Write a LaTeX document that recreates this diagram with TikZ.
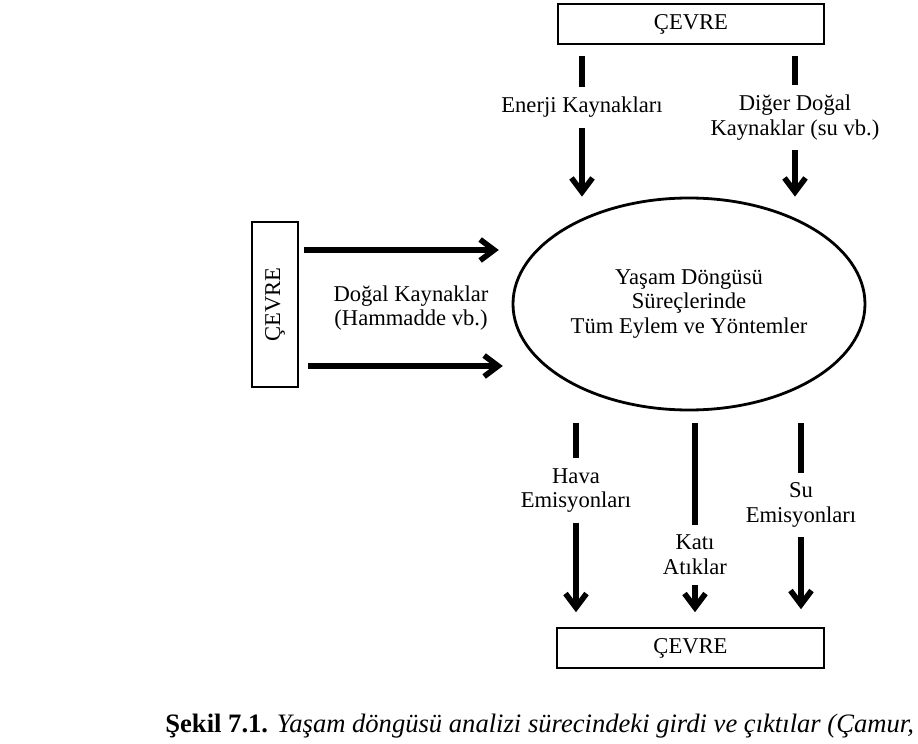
\documentclass[tikz,border=0pt]{standalone}
\usepackage{fontspec}
\setmainfont{Liberation Serif}
\usepackage{tikz}
\usetikzlibrary{positioning,calc,arrows.meta,shapes.geometric}
\tikzset{
  kutu/.style={draw=black,line width=0.8pt,fill=white,inner sep=0pt,
    minimum width=133pt,minimum height=20pt},
  ok/.style={-{Straight Barb[length=7pt,width=10.5pt]},draw=black,line width=2.8pt},
  etk/.style={fill=white,align=center,inner xsep=3pt,inner ysep=5pt},
  dongu/.style={ellipse,draw=black,line width=1.4pt,inner sep=0pt,
    minimum width=176pt,minimum height=106pt,align=center},
}

\begin{document}
\begin{tikzpicture}[x=0.5pt,y=-0.5pt,
  every node/.append style={font=\fontsize{11.3}{12.3}\selectfont}]
\useasboundingbox[fill=white] (0,0) rectangle (918,744);

\node[kutu] (cevreT) at (691,24) {ÇEVRE};
\node[kutu,rotate=90,minimum width=82.5pt,minimum height=23pt] (cevreL) at (275,304.5) {ÇEVRE};
\node[kutu,minimum width=133.5pt] (cevreB) at (690.5,648) {ÇEVRE};
\node[dongu] (surec) at (689,304)
  {Yaşam Döngüsü\\Süreçlerinde\\Tüm Eylem ve Yöntemler};

% girdiler (ustten)
\coordinate (enU) at ($(cevreT.south)+(-109,11)$);
\coordinate (dgU) at ($(cevreT.south)+(104,11)$);
\draw[ok] (enU) -- (enU |- surec.north)
  node[etk,pos=0.366] {Enerji Kaynakları};
\draw[ok] (dgU) -- (dgU |- surec.north)
  node[etk,pos=0.44] {Diğer Doğal\\Kaynaklar (su vb.)};

% girdiler (soldan)
\coordinate (hU) at ($(cevreL.south)+(5,-54.5)$);
\coordinate (hA) at ($(cevreL.south)+(9,61.5)$);
\draw[ok] (hU) -- ++(195,0);
\draw[ok] (hA) -- ++(195,0);
\node[align=center] (dogal) at (411,308) {Doğal Kaynaklar\\(Hammadde vb.)};

% ciktilar
\foreach \n/\dx/\p/\yz/\t in {hava/-113/0.356/0/{Hava\\Emisyonları},
    kati/6/0.696/0/{Katı\\Atıklar},
    su/112/0.439/3/{Su\\Emisyonları}}{
  \coordinate (\n U) at ($(surec.south)+(\dx,12)$);
  \draw[ok] (\n U) -- ($(\n U |- cevreB.north)+(0,-15-\yz)$)
    node[etk,pos=\p] {\t};
}

\node[anchor=base west,inner sep=0pt,font=\fontsize{13.3}{15}\selectfont] (sekil) at (165,732)
  {\textbf{Şekil 7.1.} \textit{Yaşam döngüsü analizi sürecindeki girdi ve çıktılar (Çamur,}};
\end{tikzpicture}
\end{document}
